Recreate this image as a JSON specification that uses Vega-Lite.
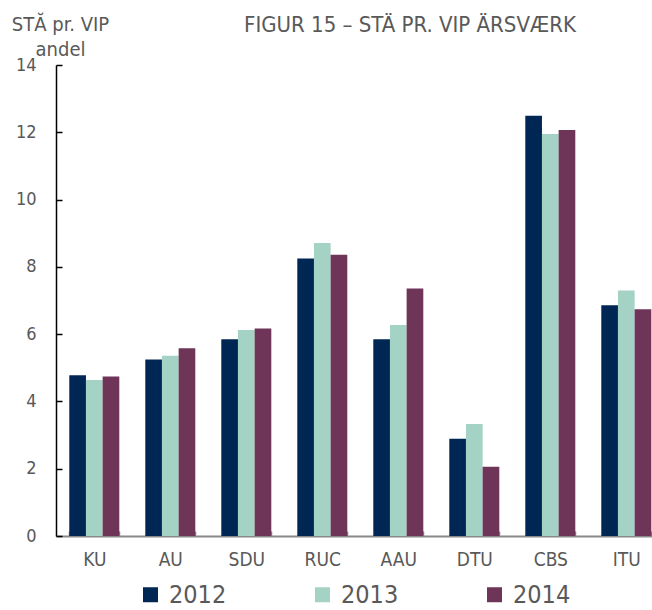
{
  "$schema": "https://vega.github.io/schema/vega-lite/v6.json",
  "width": 596,
  "height": 471,
  "autosize": {"type": "none"},
  "padding": {"left": 56, "top": 65, "right": 0, "bottom": 74},
  "background": "white",
  "config": {
    "font": "Liberation Sans Narrow, DejaVu Sans Condensed, sans-serif",
    "view": {"stroke": null}
  },
  "title": {
    "text": "FIGUR 15 – STÄ PR. VIP ÄRSVÆRK",
    "anchor": "middle",
    "dx": 56,
    "fontSize": 22,
    "fontWeight": "normal",
    "color": "#595959",
    "baseline": "alphabetic",
    "offset": -40
  },
  "data": {
    "values": [
      {"uni": "KU", "year": "2012", "value": 4.78},
      {"uni": "KU", "year": "2013", "value": 4.64},
      {"uni": "KU", "year": "2014", "value": 4.74},
      {"uni": "AU", "year": "2012", "value": 5.25},
      {"uni": "AU", "year": "2013", "value": 5.36},
      {"uni": "AU", "year": "2014", "value": 5.58},
      {"uni": "SDU", "year": "2012", "value": 5.85},
      {"uni": "SDU", "year": "2013", "value": 6.12},
      {"uni": "SDU", "year": "2014", "value": 6.17},
      {"uni": "RUC", "year": "2012", "value": 8.25},
      {"uni": "RUC", "year": "2013", "value": 8.71},
      {"uni": "RUC", "year": "2014", "value": 8.36},
      {"uni": "AAU", "year": "2012", "value": 5.85},
      {"uni": "AAU", "year": "2013", "value": 6.27},
      {"uni": "AAU", "year": "2014", "value": 7.36},
      {"uni": "DTU", "year": "2012", "value": 2.89},
      {"uni": "DTU", "year": "2013", "value": 3.33},
      {"uni": "DTU", "year": "2014", "value": 2.06},
      {"uni": "CBS", "year": "2012", "value": 12.49},
      {"uni": "CBS", "year": "2013", "value": 11.95},
      {"uni": "CBS", "year": "2014", "value": 12.07},
      {"uni": "ITU", "year": "2012", "value": 6.86},
      {"uni": "ITU", "year": "2013", "value": 7.3},
      {"uni": "ITU", "year": "2014", "value": 6.74}
    ]
  },
  "mark": {"type": "bar"},
  "encoding": {
    "x": {
      "field": "uni",
      "type": "nominal",
      "sort": ["KU", "AU", "SDU", "RUC", "AAU", "DTU", "CBS", "ITU"],
      "scale": {"paddingInner": 0.342, "paddingOuter": 0.092, "align": 0.95},
      "axis": {
        "title": null,
        "labelAngle": 0,
        "labelFontSize": 19,
        "labelColor": "#595959",
        "labelPadding": 19,
        "domainColor": "#888888",
        "domainWidth": 2,
        "tickColor": "#888888",
        "tickWidth": 1.5,
        "tickSize": -5,
        "tickBand": "extent",
        "grid": false
      }
    },
    "xOffset": {
      "field": "year",
      "type": "nominal",
      "scale": {"paddingInner": 0, "paddingOuter": 0}
    },
    "y": {
      "field": "value",
      "type": "quantitative",
      "scale": {"domain": [0, 14], "nice": false},
      "axis": {
        "values": [0, 2, 4, 6, 8, 10, 12, 14],
        "grid": false,
        "labelFontSize": 18,
        "labelColor": "#595959",
        "labelPadding": 26,
        "domainColor": "#000000",
        "domainWidth": 1.5,
        "tickColor": "#000000",
        "tickSize": -6,
        "tickWidth": 1.5,
        "title": ["STĂ pr. VIP", "andel"],
        "titleAngle": 0,
        "titleAlign": "center",
        "titleBaseline": "alphabetic",
        "titleX": 4,
        "titleY": -35,
        "titleFontSize": 20,
        "titleFontWeight": "normal",
        "titleColor": "#595959",
        "titleLineHeight": 25
      }
    },
    "color": {
      "field": "year",
      "type": "nominal",
      "scale": {"domain": ["2012", "2013", "2014"], "range": ["#002654", "#A4D3C6", "#6E3558"]},
      "legend": {
        "title": null,
        "orient": "none",
        "direction": "horizontal",
        "legendX": 82,
        "legendY": 517,
        "padding": 0,
        "symbolType": "square",
        "symbolSize": 225,
        "symbolStrokeWidth": 0,
        "labelFontSize": 25,
        "labelColor": "#595959",
        "labelOffset": 6,
        "columnPadding": 83
      }
    }
  }
}
